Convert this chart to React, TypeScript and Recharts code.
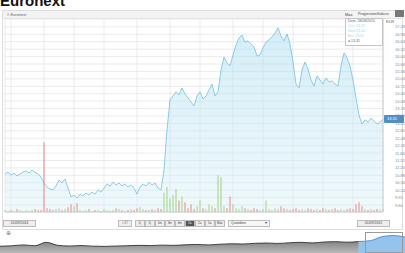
import React from "react"
import { ComposedChart, AreaChart, Area, Bar, Cell, XAxis, YAxis, CartesianGrid, ReferenceLine } from "recharts"

// daily closes (late Aug 2014 -> early Sep 2015)
const prices = [
  10.94, 11.02, 10.89, 10.98, 10.85, 10.94, 11.02, 11.07, 10.98, 11.11, 11.02, 10.94, 10.81,
  10.55, 10.38, 10.29, 10.25, 10.42, 10.68, 10.55, 10.72, 10.33, 9.95, 10.03, 9.9, 10.07,
  9.99, 10.12, 10.03, 10.16, 10.07, 10.25, 10.16, 10.33, 10.51, 10.42, 10.59, 10.46, 10.55,
  10.42, 10.51, 10.38, 10.46, 10.33, 10.07, 10.38, 10.51, 10.42, 10.59, 10.46, 10.55, 10.33,
  10.25, 11.11, 12.84, 14.13, 14.3, 14.48, 14.35, 14.65, 14.39, 14.22, 14.04, 13.87, 14.3,
  14.48, 14.17, 14.3, 14.56, 14.82, 14.3, 14.48, 15.42, 15.98, 15.73, 15.6, 16.07, 16.5,
  16.8, 16.93, 16.63, 16.68, 16.55, 16.42, 16.03, 16.07, 16.37, 16.63, 16.72, 16.85, 17.02,
  17.24, 16.89, 16.68, 16.98, 16.55, 15.77, 14.82, 14.65, 15.42, 15.77, 15.47, 14.99, 14.73,
  15.17, 14.99, 14.82, 15.08, 14.91, 14.95, 14.82, 14.73, 15.6, 16.16, 15.94, 15.6, 14.99,
  14.22, 13.48, 13.09, 13.27, 13.18, 13.35, 13.22, 13.09, 13.18, 13.31,
]

const volumes = [
  1, 0.5, 1, 0.5, 1.5, 1, 0.5, 1, 0.5, 1, 1.5, 1, 1, 36, 2, 1.5, 1, 1.5, 2, 1, 1.5, 2.5, 4, 3, 4.5,
  1, 0.5, 1, 1.5, 0.5, 1, 1, 0.5, 1.5, 1, 0.5, 1, 2, 1.5, 1, 0.5, 1, 1.5, 1, 2, 2.5, 1.5, 1, 1, 1.5, 1, 2, 1.5,
  10, 13, 7, 9, 12, 6, 8, 5, 2, 4, 1.5, 3, 6, 2, 1.5, 4, 3, 2, 19, 18, 3, 2, 8, 4, 2, 1.5,
  3, 2, 1.5, 1, 2, 1.5, 1, 1.5, 6, 1.5, 1, 2, 1.5, 3, 2, 1.5, 1, 1.5, 2, 1, 1.5, 1, 2, 1.5, 1, 1.5, 1, 2, 1.5,
  1, 1.5, 2, 1, 1.5, 1, 1.5, 2, 1.5, 4, 5, 3, 1.5, 1, 1.5, 1, 1.5, 1, 1.5,
]

const priceTicks = [
  9.6, 9.92, 10.24, 10.56, 10.88, 11.2, 11.52, 11.84, 12.16, 12.48, 12.8, 13.12, 13.44,
  13.76, 14.08, 14.4, 14.72, 15.04, 15.36, 15.68, 16.0, 16.32, 16.64, 16.96, 17.28,
]

const monthTicks = [2, 13, 23, 33, 44, 55, 65, 76, 86, 96, 106, 116]
const monthLabels = ["Sep", "Oct", "Nov", "Dec", "2015", "Feb", "Mar", "Apr", "May", "Jun", "Jul", "Aug"]

// navigator: long history (grey) and the selected window (blue)
const navHistory = [
  6, 6.4, 7.2, 6.5, 9.5, 6.8, 6.2, 6.6, 6.1, 5.9, 6.2, 6.5, 6.8, 6.6, 7.0, 6.8, 7.3, 7.6,
  7.2, 7.8, 8.2, 8.0, 8.6, 8.9, 8.5, 9.1, 9.5, 9.0, 9.8, 10.1, 9.6, 10.2, null, null, null, null,
]
const navSelected = [
  null, null, null, null, null, null, null, null, null, null, null, null, null, null, null,
  null, null, null, null, null, null, null, null, null, null, null, null, null, null, null,
  null, 10.2, 11.0, 14.5, 15.5, 14.2,
]

const rangeButtons = ["1j", "5j", "1m", "3m", "6m", "1a", "2a", "5a", "Max"]

const rows = prices.map((p, i) => ({
  i,
  price: p,
  vol: volumes[i],
  up: i === 0 || p >= prices[i - 1],
}))

const navRows = navHistory.map((v, i) => ({ i, hist: v, sel: navSelected[i] }))

const lastPrice = prices[prices.length - 1]
const font = "'Liberation Sans', Arial, sans-serif"

const MonthTick = (props: any) => {
  const { x, y, payload } = props
  const idx = monthTicks.indexOf(payload.value)
  const label = monthLabels[idx] ?? ""
  const bold = label === "2015"
  return (
    <text x={x} y={y + 5} textAnchor="middle" fontSize={4} fill={bold ? "#333" : "#777"} fontWeight={bold ? 700 : 400} fontFamily={font}>
      {label}
    </text>
  )
}

const PriceTick = (props: any) => {
  const { x, y, payload } = props
  return (
    <text x={x + 4} y={y + 1.5} fontSize={4} fill="#888" fontFamily={font}>
      {payload.value.toFixed(2)}
    </text>
  )
}

const LastLabel = (props: any) => {
  const { viewBox } = props
  if (!viewBox) return null
  const x = viewBox.x + viewBox.width + 1
  const y = viewBox.y
  return (
    <g>
      <rect x={x} y={y - 4} width={20} height={8} rx={1} fill="#4f8fc9" />
      <text x={x + 3} y={y + 1.5} fontSize={4} fill="#fff" fontFamily={font}>
        {lastPrice.toFixed(2)}
      </text>
    </g>
  )
}

const smallBox: React.CSSProperties = {
  position: "absolute",
  border: "1px solid #bbb",
  background: "#eee",
  fontSize: 3.5,
  color: "#444",
  lineHeight: "5px",
  boxSizing: "border-box",
  whiteSpace: "nowrap",
}

export default function App() {
  return (
    <div style={{ position: "relative", width: 405, height: 253, overflow: "hidden", background: "#fff", fontFamily: font }}>
      <style>{`body{margin:0}`}</style>

      <div style={{ position: "absolute", left: 0, top: -7, fontSize: 15, lineHeight: "15px", fontWeight: 700, color: "#111" }}>
        Euronext
      </div>

      {/* chart frame + header bar */}
      <div style={{ position: "absolute", left: 2, top: 10, width: 401, height: 220, border: "1px solid #ddd", boxSizing: "border-box" }} />
      <div style={{ position: "absolute", left: 3, top: 11, width: 399, height: 7, background: "#f3f3f3", borderBottom: "1px solid #e2e2e2" }}>
        <span style={{ position: "absolute", left: 4, top: 0, fontSize: 4, lineHeight: "7px", color: "#666" }}>≡ Euronext</span>
        <span style={{ position: "absolute", left: 342, top: 0, fontSize: 4, lineHeight: "7px", color: "#444" }}>Max</span>
        <span style={{ position: "absolute", left: 355, top: 0, fontSize: 3.5, lineHeight: "7px", color: "#444" }}>Progression/Indices</span>
      </div>
      <div style={{ position: "absolute", left: 395, top: 10, width: 9, height: 7, background: "#777" }} />

      <div style={{ position: "absolute", left: 0, top: 0 }}>
        <ComposedChart width={405} height={220} data={rows} margin={{ top: 19, right: 0, left: 5, bottom: 0 }}>
          <defs>
            <linearGradient id="priceFill" x1="0" y1="0" x2="0" y2="1">
              <stop offset="0%" stopColor="#a9dcef" stopOpacity={0.85} />
              <stop offset="100%" stopColor="#d9f0f8" stopOpacity={0.7} />
            </linearGradient>
          </defs>
          <CartesianGrid yAxisId="p" stroke="#e6e6e6" strokeWidth={0.8} />
          <XAxis
            dataKey="i"
            type="number"
            domain={[0, prices.length - 1]}
            ticks={monthTicks}
            tick={<MonthTick />}
            tickLine={false}
            axisLine={{ stroke: "#ccc" }}
            height={8}
            interval={0}
          />
          <YAxis
            yAxisId="p"
            orientation="right"
            domain={[9.3, 17.62]}
            ticks={priceTicks}
            tick={<PriceTick />}
            tickLine={false}
            axisLine={{ stroke: "#ccc" }}
            width={22}
            allowDataOverflow
            interval={0}
          />
          <YAxis yAxisId="v" hide domain={[0, 100]} />
          <Bar yAxisId="v" dataKey="vol" barSize={1} isAnimationActive={false}>
            {rows.map((r) => (
              <Cell key={r.i} fill={r.up ? "#9ed47e" : "#e8857f"} />
            ))}
          </Bar>
          <Area
            yAxisId="p"
            type="linear"
            dataKey="price"
            stroke="#6fc0e2"
            strokeWidth={0.8}
            fill="url(#priceFill)"
            isAnimationActive={false}
            dot={false}
          />
          <ReferenceLine yAxisId="p" y={lastPrice} stroke="none" label={<LastLabel />} />
        </ComposedChart>
      </div>

      {/* right axis header */}
      <div style={{ position: "absolute", left: 386, top: 19, fontSize: 4, color: "#666" }}>EUR</div>

      {/* crosshair legend box */}
      <div style={{ position: "absolute", left: 345, top: 18, width: 38, height: 28, border: "1px solid #c4c4c4", background: "rgba(255,255,255,0.92)", fontSize: 3.5, color: "#666", lineHeight: "5px", paddingLeft: 2, boxSizing: "border-box", whiteSpace: "nowrap" }}>
        <div>Date: 28/08/2015</div>
        <div style={{ color: "#a8d6ec" }}>Ouv. 13,22</div>
        <div style={{ color: "#a8d6ec" }}>Haut 13,40</div>
        <div style={{ color: "#a8d6ec" }}>Bas 13,05</div>
        <div>● 13,31</div>
      </div>

      {/* controls row */}
      <div style={{ ...smallBox, left: 3, top: 220, width: 33, height: 7, textAlign: "center" }}>01/09/2014</div>
      <div style={{ ...smallBox, left: 118, top: 220, width: 14, height: 7, textAlign: "center" }}>⌕ ⟲</div>
      {rangeButtons.map((b, k) => (
        <div
          key={b}
          style={{
            ...smallBox,
            left: 135 + k * 10,
            top: 220,
            width: 9.5,
            height: 7,
            textAlign: "center",
            fontSize: 3,
            background: b === "1a" ? "#555" : "#eee",
            color: b === "1a" ? "#fff" : "#444",
          }}
        >
          {b}
        </div>
      ))}
      <div style={{ ...smallBox, left: 228, top: 220, width: 42, height: 7, paddingLeft: 2, background: "#f6f6f6" }}>
        Quotidien
        <span style={{ position: "absolute", right: 2, top: 0 }}>▾</span>
      </div>
      <div style={{ ...smallBox, left: 357, top: 220, width: 33, height: 7, textAlign: "center" }}>01/09/2015</div>
      <div style={{ position: "absolute", left: 6, top: 229, fontSize: 6, color: "#777" }}>⊕</div>

      {/* navigator */}
      <div style={{ position: "absolute", left: 0, top: 235 }}>
        <AreaChart width={405} height={18} data={navRows} margin={{ top: 0, right: 0, left: 0, bottom: 0 }}>
          <defs>
            <linearGradient id="navFill" x1="0" y1="0" x2="0" y2="1">
              <stop offset="0%" stopColor="#333" />
              <stop offset="100%" stopColor="#8a8a8a" />
            </linearGradient>
          </defs>
          <XAxis dataKey="i" type="number" domain={[0, navRows.length - 1]} hide />
          <YAxis domain={[0, 16]} hide />
          <Area type="monotone" dataKey="hist" stroke="#222" strokeWidth={0.8} fill="url(#navFill)" isAnimationActive={false} connectNulls={false} />
          <Area type="monotone" dataKey="sel" stroke="#2f7fc4" strokeWidth={0.8} fill="#4d9be0" isAnimationActive={false} connectNulls={false} />
        </AreaChart>
      </div>
      <div style={{ position: "absolute", left: 365, top: 232, width: 38, height: 21, border: "1px solid #999", boxSizing: "border-box" }} />
    </div>
  )
}
